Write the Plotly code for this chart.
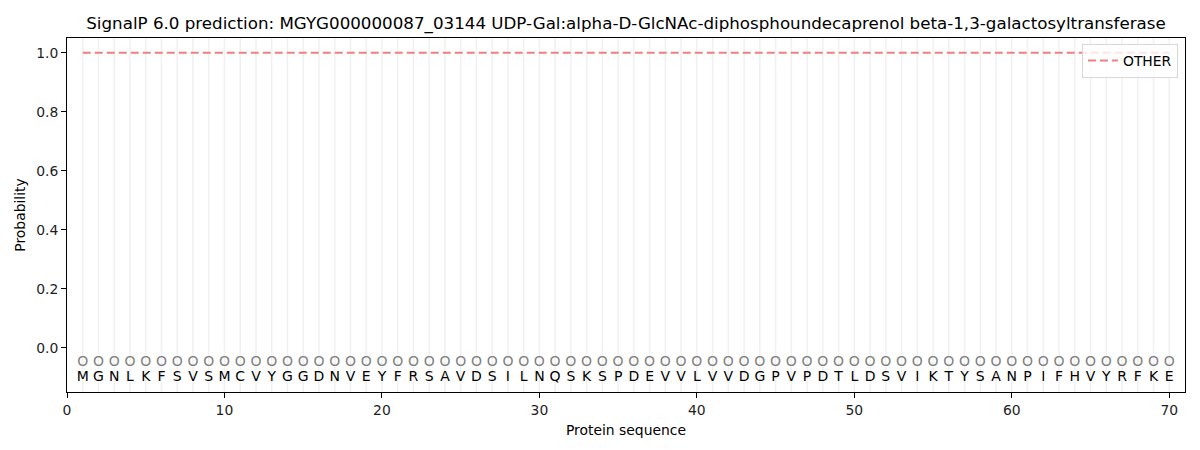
import plotly.graph_objects as go

sequence = "MGNLKFSVSMCVYGGDNVEYFRSAVDSILNQSKSPDEVVLVVDGPVPDTLDSVIKTYSANPIFHVYRFKE"
positions = list(range(1, len(sequence) + 1))
residues = list(sequence)
labels = ["O"] * len(sequence)
prob_other = [1.0] * len(sequence)

title = ("SignalP 6.0 prediction: MGYG000000087_03144 "
         "UDP-Gal:alpha-D-GlcNAc-diphosphoundecaprenol beta-1,3-galactosyltransferase")

fig = go.Figure()

# light vertical guide at every residue
for p in positions:
    fig.add_shape(type="line", x0=p, x1=p, y0=0, y1=1, xref="x", yref="paper",
                  line=dict(color="rgb(240,240,240)", width=1.5), layer="below")

fig.add_trace(go.Scatter(
    x=positions, y=prob_other, mode="lines", name="OTHER",
    line=dict(color="rgb(240,128,128)", width=2, dash="8px,4px")
))

fig.add_trace(go.Scatter(
    x=positions, y=[-0.05] * len(labels), mode="text", text=labels,
    textfont=dict(color="grey", size=14, family="DejaVu Sans"),
    showlegend=False, hoverinfo="skip"
))

fig.add_trace(go.Scatter(
    x=positions, y=[-0.1] * len(residues), mode="text", text=residues,
    textfont=dict(color="black", size=14, family="DejaVu Sans"),
    showlegend=False, hoverinfo="skip"
))

axis_style = dict(showline=True, linecolor="black", linewidth=1, mirror=True,
                  ticks="outside", ticklen=5, tickcolor="black", showgrid=False,
                  zeroline=False, automargin=False,
                  tickfont=dict(size=13.9, color="rgb(30,30,30)"))

# page body has an 8px margin, so the figure is shifted by 8px
fig.update_layout(
    width=1192, height=442,
    title=dict(text=title, x=0.5, xref="paper", xanchor="center",
               y=0.966, yanchor="middle",
               font=dict(size=16.7, color="black")),
    font=dict(family="DejaVu Sans", color="black"),
    plot_bgcolor="white", paper_bgcolor="white",
    margin=dict(l=59, r=15, t=30, b=58),
    xaxis=dict(range=[0, 71], tickvals=[0, 10, 20, 30, 40, 50, 60, 70],
               title=dict(text="Protein sequence", font=dict(size=13.9), standoff=8), **axis_style),
    yaxis=dict(range=[-0.15, 1.05], tickvals=[0, 0.2, 0.4, 0.6, 0.8, 1.0],
               tickformat=".1f",
               title=dict(text="Probability", font=dict(size=13.9), standoff=7), **axis_style),
    legend=dict(x=0.9937, y=0.983, xanchor="right", yanchor="top",
                bordercolor="rgb(215,215,215)", borderwidth=1,
                bgcolor="rgba(255,255,255,0.8)", font=dict(size=13.9)),
)

fig.write_html("out.html")
